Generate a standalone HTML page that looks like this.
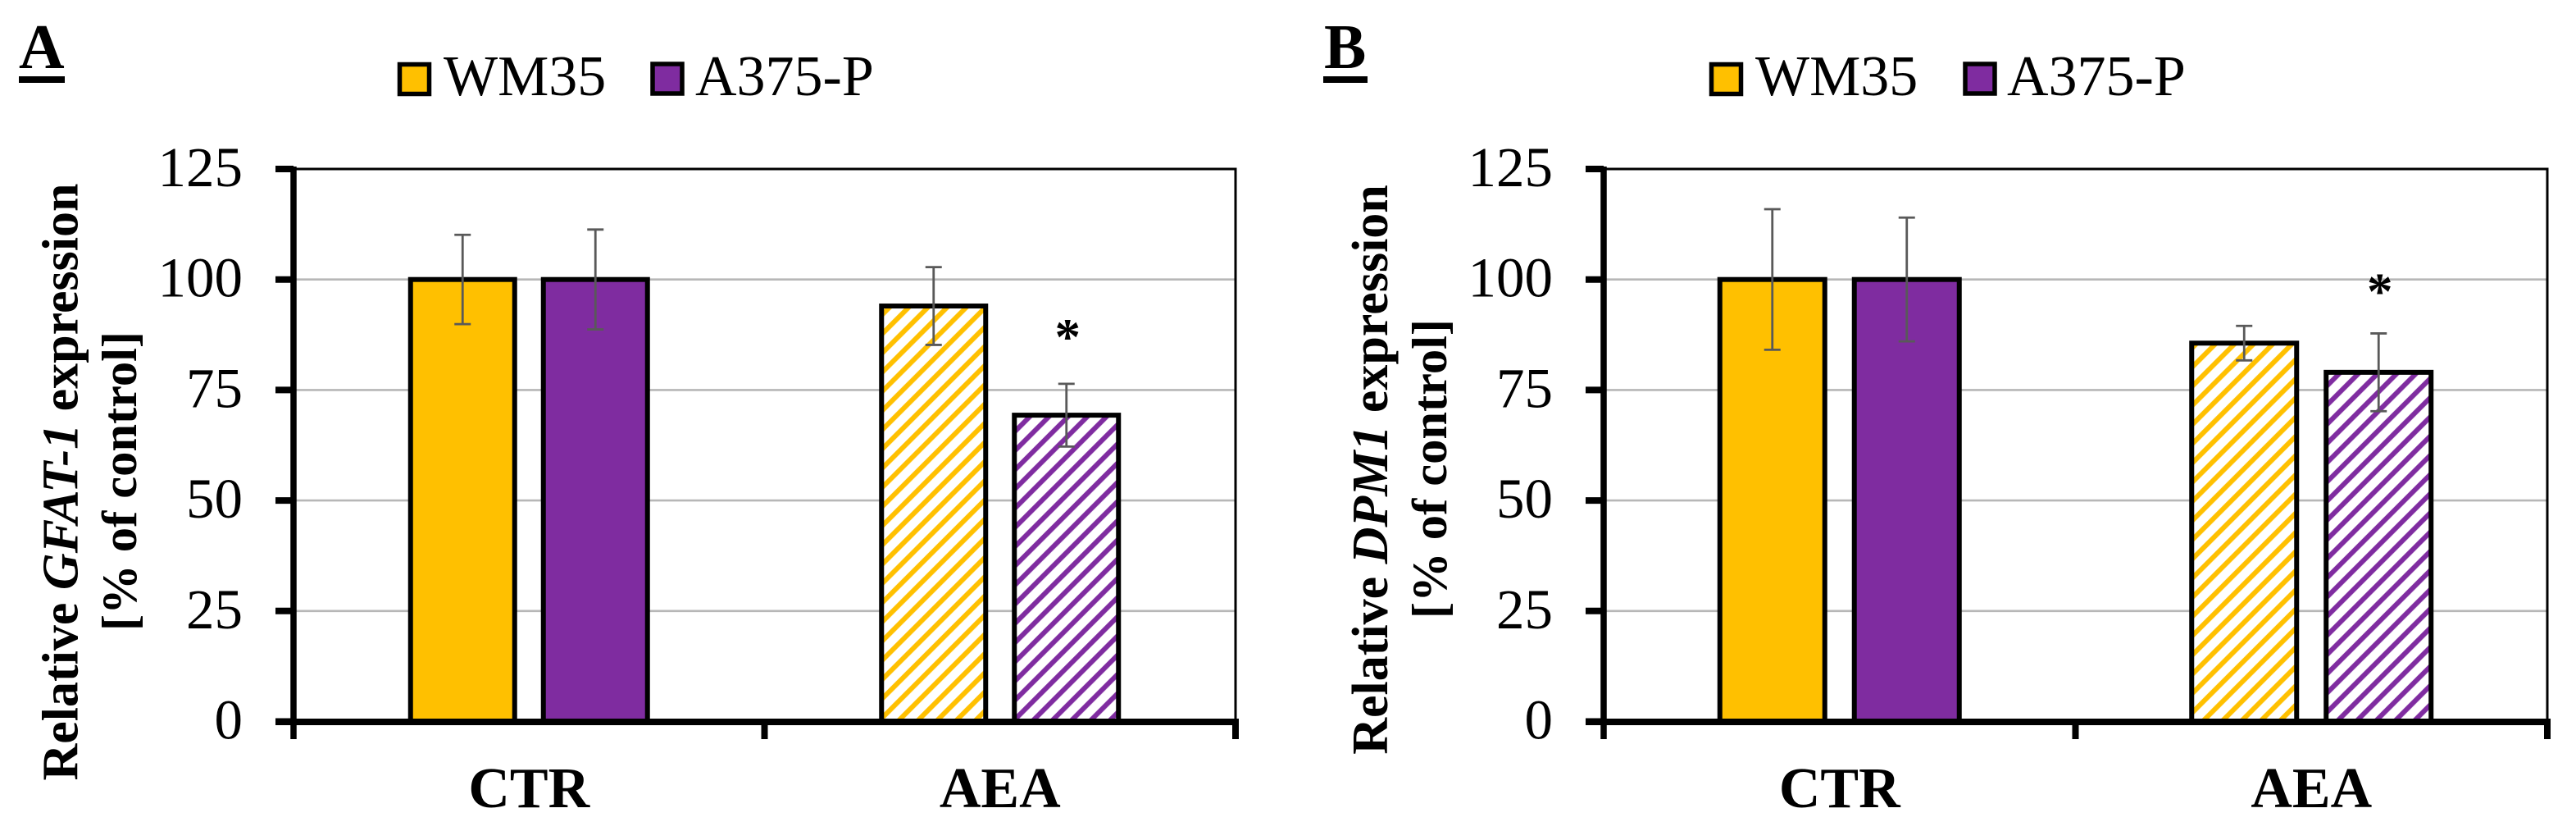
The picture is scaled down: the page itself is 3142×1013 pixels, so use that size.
<!DOCTYPE html>
<html lang="en">
<head>
<meta charset="utf-8">
<title>Relative GFAT-1 and DPM1 expression</title>
<style>
html,body{margin:0;padding:0;background:#fff;width:3142px;height:1013px;overflow:hidden}
svg{display:block}
text{font-family:"Liberation Serif",serif;fill:#000}
.bold{font-weight:700}
</style>
</head>
<body>
<svg id="figure" xmlns="http://www.w3.org/2000/svg" width="3142" height="1013" viewBox="0 0 3142 1013">
  <defs>
    <pattern id="hatch-yellow" patternUnits="userSpaceOnUse" width="16.55" height="16.55" patternTransform="rotate(45)">
      <rect width="16.55" height="16.55" fill="#fff"/>
      <rect x="3" y="0" width="6" height="16.55" fill="#FFC000"/>
    </pattern>
    <pattern id="hatch-purple" patternUnits="userSpaceOnUse" width="16.55" height="16.55" patternTransform="rotate(45)">
      <rect width="16.55" height="16.55" fill="#fff"/>
      <rect x="3" y="0" width="6" height="16.55" fill="#7F2CA0"/>
    </pattern>
  </defs>
  <rect width="3142" height="1013" fill="#fff"/>

  <g>
    <text class="bold" x="23" y="83" font-size="77">A</text>
    <rect x="23" y="93" width="56" height="8" fill="#000"/>
    <rect x="487.5" y="78.5" width="36" height="36" fill="#FFC000" stroke="#000" stroke-width="5.5"/>
    <text x="541" y="116" font-size="70">WM35</text>
    <rect x="796" y="78" width="36" height="36" fill="#7F2CA0" stroke="#000" stroke-width="5.5"/>
    <text x="848" y="116" font-size="70">A375-P</text>
    <text class="bold" transform="translate(94.5 587.5) rotate(-90)" text-anchor="middle" font-size="62">Relative <tspan font-style="italic">GFAT-1</tspan> expression</text>
    <text class="bold" transform="translate(166 586.5) rotate(-90)" text-anchor="middle" font-size="60.5">[% of control]</text>
  </g>

  <g>
    <text class="bold" x="1615" y="83" font-size="77">B</text>
    <rect x="1614" y="93" width="54" height="8" fill="#000"/>
    <rect x="2087.5" y="78.5" width="36" height="36" fill="#FFC000" stroke="#000" stroke-width="5.5"/>
    <text x="2141" y="116" font-size="70">WM35</text>
    <rect x="2397" y="78" width="36" height="36" fill="#7F2CA0" stroke="#000" stroke-width="5.5"/>
    <text x="2448" y="116" font-size="70">A375-P</text>
    <text class="bold" transform="translate(1692 572.5) rotate(-90)" text-anchor="middle" font-size="62">Relative <tspan font-style="italic">DPM1</tspan> expression</text>
    <text class="bold" transform="translate(1764 571.5) rotate(-90)" text-anchor="middle" font-size="60.5">[% of control]</text>
  </g>
</svg>

<script>
const categories = ['CTR', 'AEA'];
const seriesNames = ['wm35', 'a375p'];
const yTickValues = [0, 25, 50, 75, 100, 125];

const panelAWm35 = [100, 94];
const panelAA375p = [100, 69.3];
const panelAWm35Err = [10.1, 8.8];
const panelAA375pErr = [11.3, 7.1];
const panelASignificant = [[false, false], [false, true]];

const panelBWm35 = [100, 85.6];
const panelBA375p = [100, 79];
const panelBWm35Err = [15.9, 3.9];
const panelBA375pErr = [14, 8.8];
const panelBSignificant = [[false, false], [false, true]];

const svg = document.getElementById('figure');
const NS = 'http://www.w3.org/2000/svg';
const solidFills = ['#FFC000', '#7F2CA0'];
const hatchFills = ['url(#hatch-yellow)', 'url(#hatch-purple)'];

function make(parent, tag, attrs, text) {
  const el = document.createElementNS(NS, tag);
  for (const k in attrs) el.setAttribute(k, attrs[k]);
  if (text !== undefined) el.textContent = text;
  parent.appendChild(el);
  return el;
}

function drawPanel(p) {
  const yBase = 879.5, yTop = 206;
  const yMax = yTickValues[yTickValues.length - 1];
  const yScale = v => yBase - (v / yMax) * (yBase - yTop);
  const band = (p.right - p.left) / categories.length;
  const xCenter = i => p.left + band * (i + 0.5);
  const xBar = (i, s) => xCenter(i) + (s === 0 ? -p.offset : p.offset);

  const group = make(svg, 'g', {});
  
  

  yTickValues.forEach(v => {
    if (v === 0 || v === yMax) return;
    const line = make(group, 'line', {x1: p.left, x2: p.right, y1: yScale(v), y2: yScale(v), stroke: '#B7B7B7', 'stroke-width': 2.6});
    
    
  });

  const seriesValues = [p.wm35, p.a375p];
  const seriesErrors = [p.wm35Err, p.a375pErr];

  categories.forEach((cat, i) => {
    seriesValues.forEach((vals, s) => {
      const cx = xBar(i, s);
      const w = p.barWidth - 6;
      const bar = make(group, 'rect', {
        x: cx - w / 2, y: yScale(vals[i]), width: w, height: yBase - yScale(vals[i]),
        fill: i === 0 ? solidFills[s] : hatchFills[s],
        stroke: '#000', 'stroke-width': 6
      });
      
      
    });
  });

  categories.forEach((cat, i) => {
    seriesValues.forEach((vals, s) => {
      const cx = xBar(i, s);
      const hi = yScale(vals[i] + seriesErrors[s][i]);
      const lo = yScale(vals[i] - seriesErrors[s][i]);
      const eb = make(group, 'path', {
        d: 'M' + (cx - 10) + ' ' + hi + 'H' + (cx + 10) + 'M' + cx + ' ' + hi + 'V' + lo + 'M' + (cx - 10) + ' ' + lo + 'H' + (cx + 10),
        stroke: '#595959', 'stroke-width': 2.8, fill: 'none'
      });
      
      

      if (p.significant[i][s]) {
        const star = make(group, 'text', {x: cx + 1.5, y: hi - p.starGap, 'text-anchor': 'middle', 'font-size': 63, class: 'bold'}, '*');
        
        
      }
    });
  });

  const frame = make(group, 'path', {d: 'M' + p.left + ' ' + yTop + 'H' + p.right + 'V' + yBase, stroke: '#000', 'stroke-width': 3, fill: 'none'});
  
  

  const yAxis = make(group, 'line', {x1: p.left, x2: p.left, y1: yTop - 3, y2: 901, stroke: '#000', 'stroke-width': 7.5});
  
  

  const xAxis = make(group, 'line', {x1: p.left - 22, x2: p.right + 4, y1: 880, y2: 880, stroke: '#000', 'stroke-width': 8});
  
  

  yTickValues.forEach(v => {
    const tick = make(group, 'line', {x1: p.left - 22, x2: p.left, y1: yScale(v), y2: yScale(v), stroke: '#000', 'stroke-width': 8});
    
    

    const label = make(group, 'text', {x: p.left - 62, y: yScale(v) + 21, 'text-anchor': 'end', 'font-size': 69}, String(v));
    
    
  });

  categories.forEach((cat, i) => {
    const tx = p.left + band * (i + 1);
    const tick = make(group, 'line', {x1: tx, x2: tx, y1: 880, y2: 901, stroke: '#000', 'stroke-width': 8});
    
    

    const label = make(group, 'text', {x: xCenter(i), y: 984, 'text-anchor': 'middle', 'font-size': 70, class: 'bold'}, cat);
    
    
  });
}

drawPanel({id: 'a', left: 358, right: 1507, offset: 81, barWidth: 133, starGap: 36,
  wm35: panelAWm35, a375p: panelAA375p, wm35Err: panelAWm35Err, a375pErr: panelAA375pErr, significant: panelASignificant});
drawPanel({id: 'b', left: 1956, right: 3107, offset: 82, barWidth: 134, starGap: 30,
  wm35: panelBWm35, a375p: panelBA375p, wm35Err: panelBWm35Err, a375pErr: panelBA375pErr, significant: panelBSignificant});
</script>
</body>
</html>
